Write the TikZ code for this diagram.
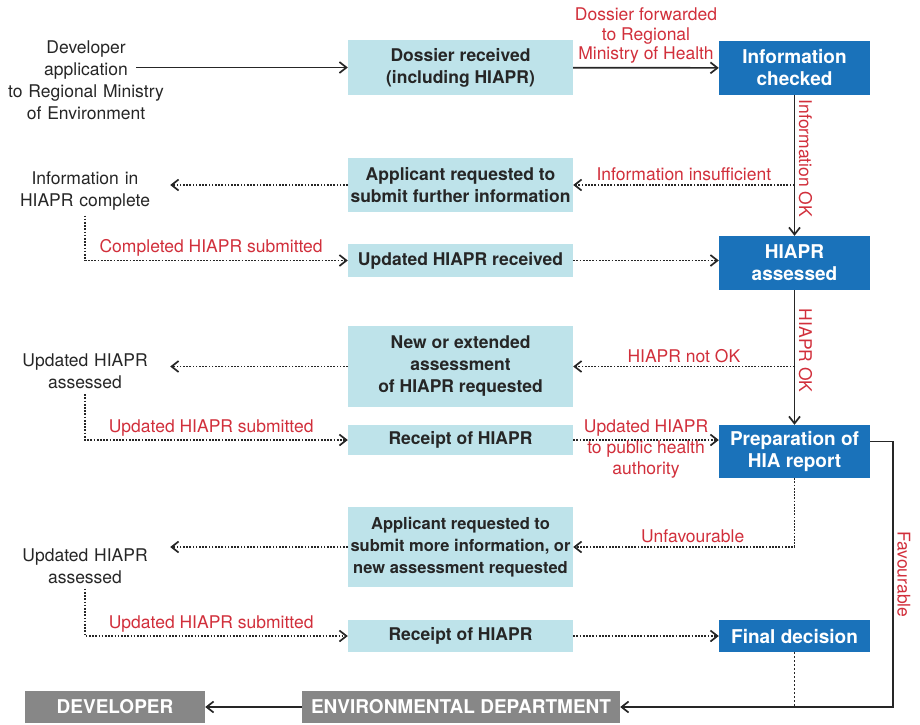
\documentclass[tikz,border=0pt]{standalone}
\usepackage{fontspec}
\setmainfont{TeX Gyre Heros}
\usepackage{xcolor}
\usepackage{tikz}
\usetikzlibrary{arrows.meta, calc}
\definecolor{paleblue}{HTML}{BEE3EA}
\definecolor{deepblue}{HTML}{1A72BA}
\definecolor{boxgrey}{HTML}{878787}
\definecolor{labelred}{HTML}{D12F3B}
\newcommand{\diagfont}{\fontsize{17.5}{22}\selectfont}
\newcommand{\redfont}{\fontsize{17.5}{19.5}\selectfont}
\newcommand{\checkfont}{\fontsize{19}{22}\selectfont}
\tikzstyle{stage} = [rectangle, fill=paleblue, minimum width=225pt, inner sep=0pt, align=center, font=\diagfont\bfseries, text=black!85]
\tikzstyle{check} = [rectangle, fill=deepblue, minimum width=151pt, inner sep=0pt, align=center, font=\checkfont\bfseries, text=white]
\tikzstyle{party} = [rectangle, fill=boxgrey, minimum height=32pt, inner sep=0pt, font=\checkfont\bfseries, text=white]
\tikzstyle{note} = [text width=160pt, inner sep=5pt, align=center, font=\diagfont, text=black!85]
\tikzstyle{verdict} = [text=labelred, align=center, font=\redfont]
\tikzstyle{flow} = [-{Straight Barb[length=7pt, width=11pt]}, line width=1.7pt, black!85]
\tikzstyle{request} = [flow, dash pattern=on 1.7pt off 1.5pt]

\begin{document}
\begin{tikzpicture}[x=1pt, y=-1pt]
		\useasboundingbox (0,0) rectangle (920,724);
		% boxes
		\node (Dev App)[note] at (86,80) {Developer\\application\\to Regional Ministry\\of Environment};
		\node (Dossier)[stage, minimum height=55pt] at (460.5,67.5) {Dossier received\\(including HIAPR)};
		\node (Info Checked)[check, minimum height=54pt] at (794.5,68) {Information\\checked};
		\node (Info Complete)[note] at (85,191) {Information in\\HIAPR complete};
		\node (Applicant Further)[stage, minimum height=54pt] at (460.5,185) {Applicant requested to\\submit further information};
		\node (Updated Received)[stage, minimum height=33pt] at (460.5,260.5) {Updated HIAPR received};
		\node (HIAPR Assessed)[check, minimum height=54pt] at (794.5,263) {HIAPR\\assessed};
		\node (Assessed One)[note] at (85,371.5) {Updated HIAPR\\assessed};
		\node (New Assessment)[stage, minimum height=81pt] at (460.5,366.5) {New or extended\\assessment\\of HIAPR requested};
		\node (Receipt One)[stage, minimum height=30pt] at (460.5,440) {Receipt of HIAPR};
		\node (Preparation)[check, minimum height=53pt] at (794.5,451.5) {Preparation of\\HIA report};
		\node (Assessed Two)[note] at (85,566) {Updated HIAPR\\assessed};
		\node (Applicant More)[stage, minimum height=80pt, font=\fontsize{16.5}{22}\selectfont\bfseries] at (460.5,547) {Applicant requested to\\submit more information, or\\new assessment requested};
		\node (Receipt Two)[stage, minimum height=32pt] at (460.5,636) {Receipt of HIAPR};
		\node (Final Decision)[check, minimum height=32pt] at (794.5,636) {Final decision};
		\node (Developer)[party, minimum width=180pt] at (115,707) {DEVELOPER};
		\node (Env Dept)[party, minimum width=318pt] at (461,707) {ENVIRONMENTAL DEPARTMENT};
		% first round
		\draw [flow] ($(Dev App.east |- Dossier.west)+(-35,0)$) -- (Dossier.west);
		\draw [flow] (Dossier) -- node[verdict, above]{Dossier forwarded\\to Regional\\Ministry of Health} (Info Checked);
		\draw [flow] (Info Checked) -- node[verdict, sloped, above, pos=0.45]{Information OK} (HIAPR Assessed);
		\draw [request] (Info Checked.south |- Applicant Further.east) -- node[verdict, above]{Information insufficient} (Applicant Further.east);
		\draw [request] (Applicant Further.west) -- (Applicant Further.west -| Info Complete.east);
		\draw [request] (Info Complete.south) |- node[verdict, above, pos=0.74]{Completed HIAPR submitted} (Updated Received.west);
		\draw [request] (Updated Received.east) -- (HIAPR Assessed.west |- Updated Received.east);
		% second round
		\draw [flow] (HIAPR Assessed) -- node[verdict, sloped, above, pos=0.45]{HIAPR OK} (Preparation);
		\draw [request] (HIAPR Assessed.south |- New Assessment.east) -- node[verdict, above]{HIAPR not OK} (New Assessment.east);
		\draw [request] (New Assessment.west) -- (New Assessment.west -| Assessed One.east);
		\draw [request] (Assessed One.south) |- node[verdict, above, pos=0.74]{Updated HIAPR submitted} (Receipt One.west);
		\draw [request] (Receipt One.east) -- node[verdict, yshift=-9pt, font=\fontsize{17.5}{21}\selectfont]{Updated HIAPR\\to public health\\authority} (Preparation.west |- Receipt One.east);
		% decision
		\draw [request] (Preparation.south) |- node[verdict, above, pos=0.73]{Unfavourable} (Applicant More.east);
		\draw [request] (Applicant More.west) -- (Applicant More.west -| Assessed Two.east);
		\draw [request] (Assessed Two.south) |- node[verdict, above, pos=0.74]{Updated HIAPR submitted} (Receipt Two.west);
		\draw [request] (Receipt Two) -- (Final Decision);
		\draw [line width=0.9pt, black!85, dash pattern=on 2pt off 2pt] (Final Decision.south) -- (Final Decision.south |- Env Dept.east);
		\draw [flow] ([yshift=10pt]Preparation.east) -- ++(23,0) |- node[verdict, sloped, above, pos=0.25]{Favourable} (Env Dept.east);
		\draw [flow] (Env Dept) -- (Developer);
	\end{tikzpicture}
\end{document}
